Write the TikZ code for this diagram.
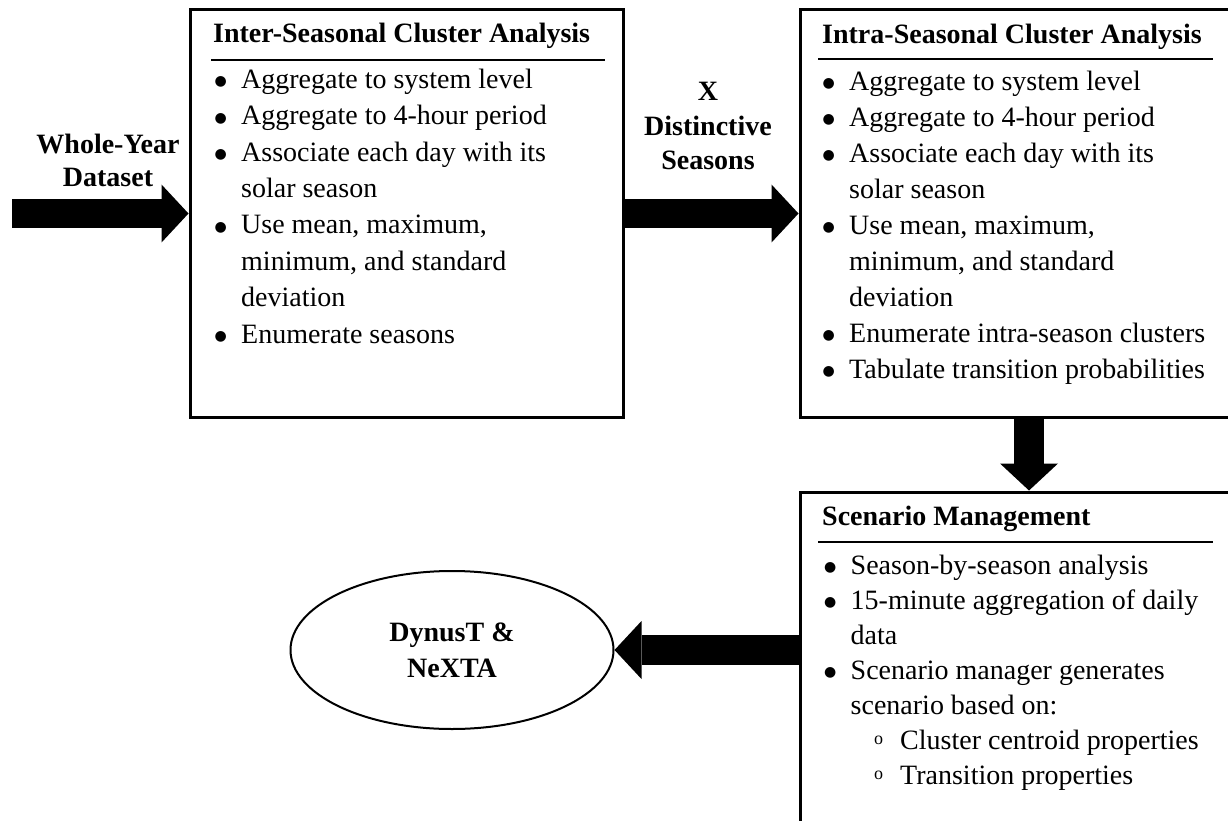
\documentclass[tikz,border=0pt]{standalone}
\usepackage{fontspec}
\setmainfont{Liberation Serif}
\newfontfamily\dejavu{DejaVu Sans}
\usetikzlibrary{arrows.meta,shapes.geometric}

\newcommand{\bul}{\makebox[25.5pt][l]{\hspace*{5pt}\makebox[0pt][c]{\raisebox{2.5pt}{\dejavu\fontsize{14}{14}\selectfont ●}}}}
\newcommand{\cnt}{\hspace*{25.5pt}}
\newcommand{\subbul}{\hspace*{49pt}\makebox[26pt][l]{\raisebox{4.5pt}{\fontsize{18}{18}\selectfont o}}}
\newcommand{\fstrut}{\rule{0pt}{22pt}}

\tikzset{
  panel/.style={draw,line width=3pt,inner sep=0pt},
  head/.style={font=\fontsize{28}{34}\selectfont\bfseries,inner sep=0pt,anchor=base west},
  items/.style={align=left,inner sep=0pt,anchor=north west},
  ulrule/.style={line width=1.3pt},
  bigarrow/.style={line width=29.5pt,-{Triangle[length=27pt,width=58pt,line width=0pt]}},
  sidetext/.style={font=\bfseries,align=center,inner sep=0pt,anchor=north}
}

\begin{document}
\begin{tikzpicture}[x=1pt,y=-1pt]
  \useasboundingbox (0,0) rectangle (1228,821);
  \clip (0,0) rectangle (1228,821);
  \node[panel,minimum width=433pt,minimum height=407pt] (inter) at (406.5,213.5) {};
  \node[panel,minimum width=458pt,minimum height=407pt] (intra) at (1029,213.5) {};
  \node[panel,minimum width=458pt,minimum height=420pt] (scen) at (1029,702) {};
  \node[ellipse,draw,line width=2pt,minimum width=323pt,minimum height=158pt,inner sep=0pt,
    align=center,font=\fontsize{28}{36}\selectfont\bfseries] (dyn) at (452,650) {DynusT \&\\NeXTA};

  \node[head] (interT) at (213,43) {Inter-Seasonal Cluster Analysis};
  \draw[ulrule] (211,60) -- (605,60);
  \node[items,font=\fontsize{28}{36.4}\selectfont] (interL) at (215.5,66) {\fstrut\bul Aggregate to system level\\
    \bul Aggregate to 4-hour period\\ \bul Associate each day with its\\ \cnt solar season\\
    \bul Use mean, maximum,\\ \cnt minimum, and standard\\ \cnt deviation\\ \bul Enumerate seasons};

  \node[head] (intraT) at (822,44) {Intra-Seasonal Cluster Analysis};
  \draw[ulrule] (818,59) -- (1213,59);
  \node[items,font=\fontsize{28}{36}\selectfont] (intraL) at (823.5,68) {\fstrut\bul Aggregate to system level\\
    \bul Aggregate to 4-hour period\\ \bul Associate each day with its\\ \cnt solar season\\
    \bul Use mean, maximum,\\ \cnt minimum, and standard\\ \cnt deviation\\
    \bul Enumerate intra-season clusters\\ \bul Tabulate transition probabilities};

  \node[head] (scenT) at (822,525) {Scenario Management};
  \draw[ulrule] (818,542) -- (1213,542);
  \node[items,font=\fontsize{28}{35}\selectfont] (scenL) at (825,552) {\fstrut\bul Season-by-season analysis\\
    \bul 15-minute aggregation of daily\\ \cnt data\\ \bul Scenario manager generates\\
    \cnt scenario based on:\\ \subbul Cluster centroid properties\\ \subbul Transition properties};

  \node[sidetext,font=\fontsize{28}{33}\selectfont\bfseries] (whole) at (108,131) {\fstrut Whole-Year\\Dataset};
  \node[sidetext,font=\fontsize{28}{34.5}\selectfont\bfseries] (xseas) at (708,78.5) {\fstrut X\\Distinctive\\Seasons};

  \coordinate (src) at (12,213.5);
  \draw[bigarrow] (src) -- (inter.west);
  \draw[bigarrow] (inter.east) -- (intra.west);
  \draw[bigarrow] (intra.south) -- (scen.north);
  \draw[bigarrow] (dyn.east -| scen.west) -- (dyn.east);
\end{tikzpicture}
\end{document}
